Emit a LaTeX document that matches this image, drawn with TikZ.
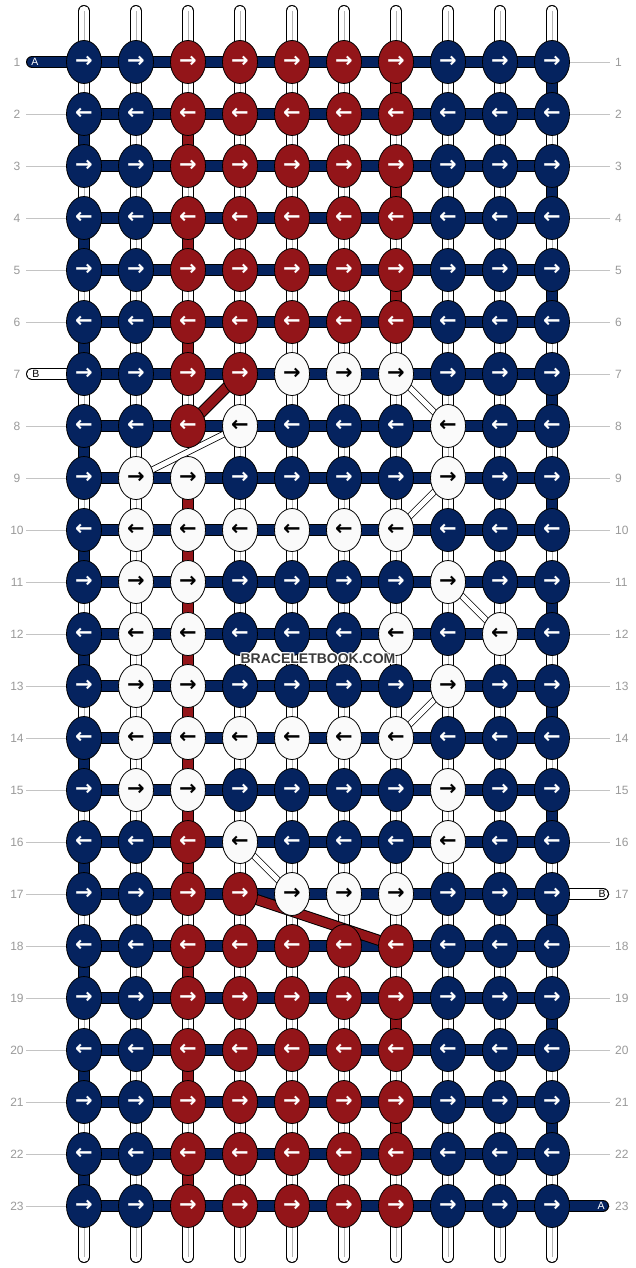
\documentclass[tikz,border=0pt]{standalone}
\usepackage{fontspec}
\setmainfont{Liberation Sans}
\newfontfamily\arrowfont{DejaVu Sans}
\usetikzlibrary{shapes.geometric}
\definecolor{bblue}{HTML}{05235F}
\definecolor{rred}{HTML}{931519}
\definecolor{kwhite}{HTML}{FAFAFA}
\definecolor{guidegray}{HTML}{C4C4C4}
\definecolor{numgray}{HTML}{9A9A9A}
\definecolor{midgray}{HTML}{B4B4B4}
\definecolor{wmgray}{HTML}{3A3A3A}
\pgfdeclarelayer{paper}
\pgfdeclarelayer{guide}
\pgfdeclarelayer{strands}
\pgfdeclarelayer{diag}
\pgfdeclarelayer{top}
\pgfsetlayers{paper,guide,strands,diag,main,top}
\tikzset{
  knot/.style={ellipse, draw=black, line width=0.8pt, minimum width=35pt, minimum height=43pt, inner sep=0pt, font=\arrowfont\bfseries\fontsize{21}{21}\selectfont},
  kB/.style={knot, fill=bblue, text=white},
  kR/.style={knot, fill=rred, text=white},
  kW/.style={knot, fill=kwhite, text=black},
  band/.style={line width=1pt, draw=black, double distance=10pt},
  bandB/.style={band, double=bblue},
  bandR/.style={band, double=rred},
  bandW/.style={band, double=white},
  midline/.style={draw=midgray, line width=0.6pt},
  diagW/.style={line width=0.8pt, draw=black, double=white, double distance=5pt},
  diagR/.style={line width=1pt, draw=black, double=rred, double distance=9pt},
  guide/.style={draw=guidegray, line width=0.8pt},
  rownum/.style={text=numgray, font=\fontsize{12}{12}\selectfont, inner sep=0pt},
  endlab/.style={font=\fontsize{10.5}{10.5}\selectfont, inner sep=0pt},
  wm/.style={font=\bfseries\fontsize{14}{14}\selectfont, inner sep=0pt},
}
\begin{document}
\begin{tikzpicture}[x=1pt,y=-1pt]
\useasboundingbox (0,0) rectangle (636,1268);
\begin{pgfonlayer}{paper}
\fill[white] (0,0) rectangle (636,1268);
\end{pgfonlayer}

% knots
\foreach \r/\row in {
 1/{B,B,R,R,R,R,R,B,B,B},
 2/{B,B,R,R,R,R,R,B,B,B},
 3/{B,B,R,R,R,R,R,B,B,B},
 4/{B,B,R,R,R,R,R,B,B,B},
 5/{B,B,R,R,R,R,R,B,B,B},
 6/{B,B,R,R,R,R,R,B,B,B},
 7/{B,B,R,R,W,W,W,B,B,B},
 8/{B,B,R,W,B,B,B,W,B,B},
 9/{B,W,W,B,B,B,B,W,B,B},
 10/{B,W,W,W,W,W,W,B,B,B},
 11/{B,W,W,B,B,B,B,W,B,B},
 12/{B,W,W,B,B,B,W,B,W,B},
 13/{B,W,W,B,B,B,B,W,B,B},
 14/{B,W,W,W,W,W,W,B,B,B},
 15/{B,W,W,B,B,B,B,W,B,B},
 16/{B,B,R,W,B,B,B,W,B,B},
 17/{B,B,R,R,W,W,W,B,B,B},
 18/{B,B,R,R,R,R,R,B,B,B},
 19/{B,B,R,R,R,R,R,B,B,B},
 20/{B,B,R,R,R,R,R,B,B,B},
 21/{B,B,R,R,R,R,R,B,B,B},
 22/{B,B,R,R,R,R,R,B,B,B},
 23/{B,B,R,R,R,R,R,B,B,B}}{
  \foreach \k [count=\c] in \row {
    \node[k\k] (k-\r-\c) at ({84+52*(\c-1)},{62+52*(\r-1)}) {\ifodd\r\relax →\else ←\fi};
  }
}

% guide lines and row numbers
\begin{pgfonlayer}{guide}
\foreach \r in {1,...,23}{
  \coordinate (gl-\r) at (26,{62+52*(\r-1)});
  \coordinate (gr-\r) at (610,{62+52*(\r-1)});
  \draw[guide] (gl-\r) -- (gr-\r);
  \node[rownum] (nl-\r) at (17,{62+52*(\r-1)}) {\r};
  \node[rownum,anchor=west] (nr-\r) at (615,{62+52*(\r-1)}) {\r};
}
\end{pgfonlayer}

\begin{pgfonlayer}{strands}
% vertical warp segments (white)
\foreach \c in {1,...,10}{
  \foreach \r [evaluate=\r as \rn using int(\r+1)] in {1,...,22}{
    \ifnum\c\r=38 \else
      \draw[bandW] (k-\r-\c.center) -- (k-\rn-\c.center);
      \draw[midline] (k-\r-\c.center) -- (k-\rn-\c.center);
    \fi
  }
}
% blue turns
\foreach \r [evaluate=\r as \rn using int(\r+1)] in {2,4,...,22}
  \draw[bandB] (k-\r-1.center) -- (k-\rn-1.center);
\foreach \r [evaluate=\r as \rn using int(\r+1)] in {1,3,...,21}
  \draw[bandB] (k-\r-10.center) -- (k-\rn-10.center);
% red turns
\foreach \r [evaluate=\r as \rn using int(\r+1)] in {2,4,6,9,10,11,12,13,14,15,16,18,20,22}
  \draw[bandR] (k-\r-3.center) -- (k-\rn-3.center);
\foreach \r [evaluate=\r as \rn using int(\r+1)] in {1,3,5,19,21}
  \draw[bandR] (k-\r-7.center) -- (k-\rn-7.center);
% horizontal weft
\foreach \r in {1,...,23}{
  \foreach \c [evaluate=\c as \cn using int(\c+1)] in {1,...,9}
    \draw[bandB] (k-\r-\c.center) -- (k-\r-\cn.center);
}
% top and bottom ends
\foreach \c in {1,...,10}{
  \coordinate (top-\c) at ({84+52*(\c-1)},11);
  \coordinate (bot-\c) at ({84+52*(\c-1)},1257);
  \draw[bandW,line cap=round] (top-\c) -- (k-1-\c.center);
  \draw[midline] (top-\c) -- (k-1-\c.center);
  \draw[bandW,line cap=round] (k-23-\c.center) -- (bot-\c);
  \draw[midline] (k-23-\c.center) -- (bot-\c);
}
% loose ends A and B
\coordinate (A-start) at (32,62);
\coordinate (B-start) at (32,374);
\coordinate (B-end) at (603,894);
\coordinate (A-end) at (603,1206);
\draw[bandB,line cap=round] (A-start) -- (k-1-1.center);
\draw[bandW,line cap=round] (B-start) -- (k-7-1.center);
\draw[bandW,line cap=round] (k-17-10.center) -- (B-end);
\draw[bandB,line cap=round] (k-23-10.center) -- (A-end);
\node[endlab,text=white] (labA1) at (35,62) {A};
\node[endlab,text=black] (labB1) at (36,374) {B};
\node[endlab,text=black] (labB2) at (602,894) {B};
\node[endlab,text=white] (labA2) at (601,1206) {A};
\end{pgfonlayer}

% diagonal strands
\begin{pgfonlayer}{diag}
\draw[diagR] (k-7-4.center) -- (k-8-3.center);
\draw[diagW] (k-8-4.center) -- (k-9-2.center);
\draw[diagW] (k-7-7.center) -- (k-8-8.center);
\draw[diagW] (k-9-8.center) -- (k-10-7.center);
\draw[diagW] (k-11-8.center) -- (k-12-9.center);
\draw[diagW] (k-13-8.center) -- (k-14-7.center);
\draw[diagW] (k-16-4.center) -- (k-17-5.center);
\draw[diagR] (k-17-4.center) -- (k-18-7.center);
\end{pgfonlayer}

% watermark
\begin{pgfonlayer}{top}
\foreach \dx/\dy [count=\i] in {-1/0,1/0,0/-1,0/1,-1/-1,1/1,-1/1,1/-1}
  \node[wm,text=white] (wmh-\i) at ({318+\dx},{659+\dy}) {BRACELETBOOK.COM};
\node[wm,text=wmgray] (wm) at (318,659) {BRACELETBOOK.COM};
\end{pgfonlayer}
\end{tikzpicture}
\end{document}
